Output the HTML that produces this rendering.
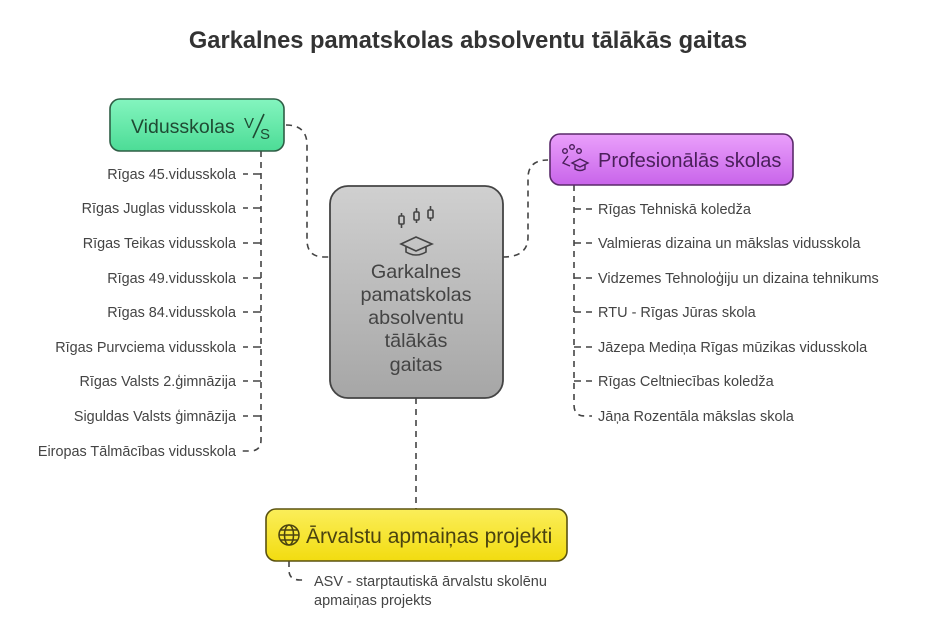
<!DOCTYPE html>
<html><head><meta charset="utf-8"><style>
html,body{margin:0;padding:0;background:#fff;}
svg{display:block;font-family:"Liberation Sans",sans-serif;}
</style></head><body>
<svg width="937" height="625" viewBox="0 0 937 625" xmlns="http://www.w3.org/2000/svg">
<defs>
<linearGradient id="g" x1="0" y1="0" x2="0" y2="1"><stop offset="0" stop-color="#d0d0d0"/><stop offset="1" stop-color="#a6a6a6"/></linearGradient>
<linearGradient id="gr" x1="0" y1="0" x2="0" y2="1"><stop offset="0" stop-color="#84f5bf"/><stop offset="1" stop-color="#4cdc96"/></linearGradient>
<linearGradient id="pu" x1="0" y1="0" x2="0" y2="1"><stop offset="0" stop-color="#eaa0fb"/><stop offset="1" stop-color="#c864ea"/></linearGradient>
<linearGradient id="ye" x1="0" y1="0" x2="0" y2="1"><stop offset="0" stop-color="#fbee5a"/><stop offset="1" stop-color="#f2dc10"/></linearGradient>
</defs>
<text x="468" y="48" text-anchor="middle" font-size="23.7" font-weight="bold" fill="#333">Garkalnes pamatskolas absolventu tālākās gaitas</text>

<g fill="none" stroke="#444" stroke-width="1.6" stroke-dasharray="6,5">
<path d="M286 125 Q307 125 307 145 L307 240 Q307 257 324 257 L330 257"/>
<path d="M503 257 Q528 257 528 237 L528 178 Q528 160 548 160"/>
<path d="M416 398 L416 509"/>
<path d="M261 151 L261 440 Q261 451 250 451 L240 451"/>
<path d="M574 185 L574 405 Q574 416 585 416 L592 416"/>
<path d="M289 561 L289 570 Q289 580 300 580 L305 580"/>
</g>
<g stroke="#444" stroke-width="1.6">
<path d="M243 174h5M253 174h8M243 208h5M253 208h8M243 243h5M253 243h8M243 278h5M253 278h8M243 312h5M253 312h8M243 347h5M253 347h8M243 381h5M253 381h8M243 416h5M253 416h8"/>
<path d="M574 209h7M586 209h6M574 243h7M586 243h6M574 278h7M586 278h6M574 312h7M586 312h6M574 347h7M586 347h6M574 381h7M586 381h6"/>
</g>

<rect x="110" y="99" width="174" height="52" rx="10" fill="url(#gr)" stroke="#2e5e45" stroke-width="1.6"/>
<text x="131" y="133" font-size="19.5" fill="#1f4a33">Vidusskolas</text>
<text x="244" y="128" font-size="15" fill="#1f4a33">V</text>
<path d="M253 138 L264 114" stroke="#1f4a33" stroke-width="1.6"/>
<text x="260" y="139" font-size="15" fill="#1f4a33">S</text>

<rect x="330" y="186" width="173" height="212" rx="18" fill="url(#g)" stroke="#444" stroke-width="1.8"/>
<g fill="none" stroke="#444" stroke-width="1.6">
<rect x="399" y="216" width="5" height="8" rx="1"/><path d="M401.5 213v3M401.5 224v4"/>
<rect x="414" y="212" width="5" height="8" rx="1"/><path d="M416.5 208v4M416.5 220v3"/>
<rect x="428" y="210" width="5" height="8" rx="1"/><path d="M430.5 206v4M430.5 218v3"/>
<path d="M401 244 L416 237 L432 244 L416 251 Z"/><path d="M406 247v5q10 6 20 0v-5"/>
</g>
<g font-size="19.8" fill="#444" text-anchor="middle">
<text x="416" y="278">Garkalnes</text>
<text x="416" y="301">pamatskolas</text>
<text x="416" y="324">absolventu</text>
<text x="416" y="347">tālākās</text>
<text x="416" y="371">gaitas</text>
</g>

<rect x="550" y="134" width="243" height="51" rx="10" fill="url(#pu)" stroke="#5a2a6a" stroke-width="1.6"/>
<g fill="none" stroke="#4a1f5a" stroke-width="1.4">
<circle cx="565" cy="151" r="2.3"/><circle cx="572" cy="147" r="2.3"/><circle cx="579" cy="151" r="2.3"/>
<path d="M568 156 L563 163 L570 166"/><path d="M572 163 L580 159 L588 163 L580 167 Z"/><path d="M575 165v4q5 3 10 0v-4"/>
</g>
<text x="598" y="167" font-size="20" fill="#4a1f5a">Profesionālās skolas</text>

<rect x="266" y="509" width="301" height="52" rx="10" fill="url(#ye)" stroke="#5a5210" stroke-width="1.6"/>
<g fill="none" stroke="#4a4310" stroke-width="1.5">
<circle cx="289" cy="535" r="10"/><ellipse cx="289" cy="535" rx="4.5" ry="10"/><path d="M279 535h20M281 530h16M281 540h16"/>
</g>
<text x="306" y="543" font-size="21" fill="#4a4310">Ārvalstu apmaiņas projekti</text>

<g font-size="14.4" fill="#444" text-anchor="end">
<text x="236" y="179">Rīgas 45.vidusskola</text>
<text x="236" y="213">Rīgas Juglas vidusskola</text>
<text x="236" y="248">Rīgas Teikas vidusskola</text>
<text x="236" y="283">Rīgas 49.vidusskola</text>
<text x="236" y="317">Rīgas 84.vidusskola</text>
<text x="236" y="352">Rīgas Purvciema vidusskola</text>
<text x="236" y="386">Rīgas Valsts 2.ģimnāzija</text>
<text x="236" y="421">Siguldas Valsts ģimnāzija</text>
<text x="236" y="456">Eiropas Tālmācības vidusskola</text>
</g>
<g font-size="14.5" fill="#444">
<text x="598" y="214">Rīgas Tehniskā koledža</text>
<text x="598" y="248">Valmieras dizaina un mākslas vidusskola</text>
<text x="598" y="283">Vidzemes Tehnoloģiju un dizaina tehnikums</text>
<text x="598" y="317">RTU - Rīgas Jūras skola</text>
<text x="598" y="352">Jāzepa Mediņa Rīgas mūzikas vidusskola</text>
<text x="598" y="386">Rīgas Celtniecības koledža</text>
<text x="598" y="421">Jāņa Rozentāla mākslas skola</text>
<text x="314" y="586">ASV - starptautiskā ārvalstu skolēnu</text>
<text x="314" y="605">apmaiņas projekts</text>
</g>
</svg>
</body></html>
